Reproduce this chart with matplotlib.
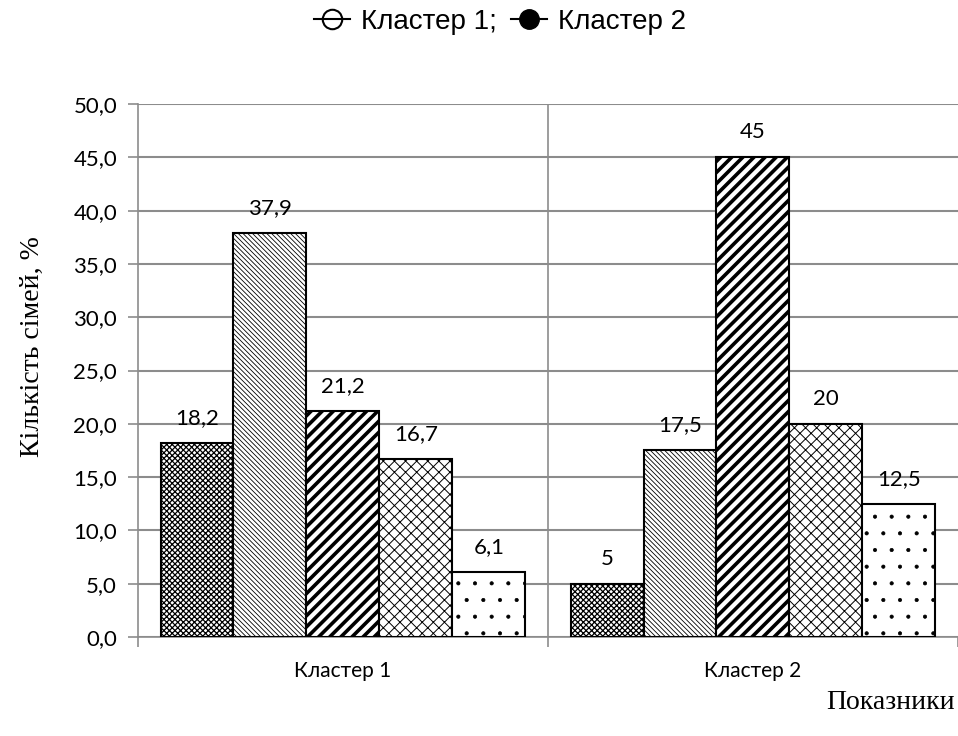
import matplotlib
matplotlib.use("Agg")
import matplotlib.pyplot as plt
import numpy as np
from matplotlib.lines import Line2D

# Дані
clusters = ["Кластер 1", "Кластер 2"]
values_1 = [18.2, 37.9, 21.2, 16.7, 6.1]
values_2 = [5, 17.5, 45, 20, 12.5]
labels_1 = ["18,2", "37,9", "21,2", "16,7", "6,1"]
labels_2 = ["5", "17,5", "45", "20", "12,5"]
hatches = ["xxxxxx", "\\\\\\\\\\\\\\", "///", "xxx", "."]
hatch_lw = [0.9, 0.6, 2.6, 0.7, 0.5]

grid_col = "#8c8c8c"
tick_font = "Lato"

fig = plt.figure(figsize=(9.58, 7.36), dpi=100)
ax = fig.add_axes([0.144, 0.1345, 0.856, 0.7242])

x = np.arange(len(clusters))
w = 0.178
data = np.array([values_1, values_2])
text = [labels_1, labels_2]

for i in range(5):
    bars = ax.bar(x + (i - 2) * w, data[:, i], w, color="white", edgecolor="black",
                  hatch=hatches[i], linewidth=1.5, zorder=3)
    for b in bars:
        try:
            b.set_hatch_linewidth(hatch_lw[i])
        except AttributeError:
            pass
    for j, b in enumerate(bars):
        ax.text(b.get_x() + b.get_width() / 2, b.get_height() + 1.4, text[j][i],
                ha="center", va="bottom", fontsize=16, family=tick_font, zorder=4)

ax.set_ylim(0, 50)
ax.set_xlim(-0.5, 1.5)
ax.set_yticks(np.arange(0, 51, 5))
ax.set_yticklabels([f"{v:.1f}".replace(".", ",") for v in np.arange(0, 51, 5)],
                   family=tick_font, fontsize=16)
ax.yaxis.grid(True, color=grid_col, linewidth=1.5, zorder=0)
ax.axvline(0.5, color=grid_col, linewidth=1.2, zorder=1)

ax.set_xticks(x)
ax.set_xticklabels(clusters, family=tick_font, fontsize=15)
ax.set_xticks([-0.5, 0.5, 1.5], minor=True)
ax.tick_params(axis="x", which="major", length=0, pad=17)
ax.tick_params(axis="x", which="minor", length=7, color=grid_col, width=1.2)
ax.tick_params(axis="y", length=7, color=grid_col, width=1.2, pad=8)

for s in ["top", "right"]:
    ax.spines[s].set_visible(False)
ax.spines["left"].set_color(grid_col)
ax.spines["bottom"].set_color(grid_col)
ax.spines["left"].set_linewidth(1.2)
ax.spines["bottom"].set_linewidth(1.2)

ax.set_ylabel("Кількість сімей, %", family="Liberation Serif", fontsize=20)
ax.yaxis.set_label_coords(-0.113, 0.544)
fig.text(0.997, 0.028, "Показники", family="Liberation Serif", fontsize=20,
         ha="right", va="bottom")

handles = [
    Line2D([], [], color="black", marker="o", markerfacecolor="none", markersize=14,
           markeredgewidth=1.5, lw=1.5),
    Line2D([], [], color="black", marker="o", markerfacecolor="black", markersize=14, lw=1.5),
]
fig.legend(handles, ["Кластер 1;", "Кластер 2"], loc="center", bbox_to_anchor=(0.522, 0.97),
           ncol=2, frameon=False, prop={"family": "Liberation Sans", "size": 20},
           handlelength=1.3, handletextpad=0.4, columnspacing=0.5)

fig.savefig("out.png", dpi=100)
